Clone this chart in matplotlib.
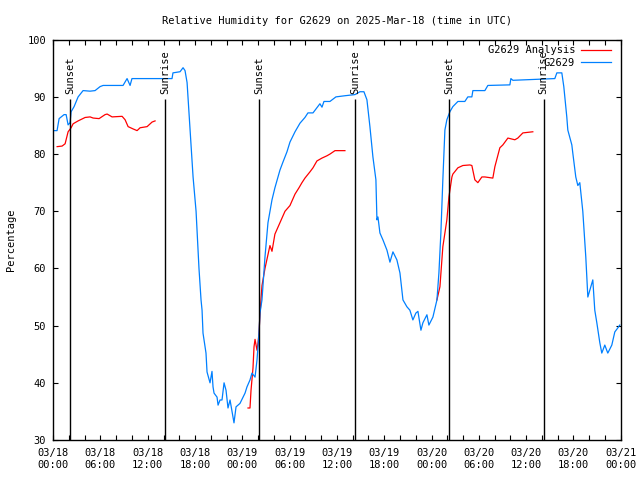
import datetime as dt
import numpy as np
import matplotlib
matplotlib.use("Agg")
import matplotlib.pyplot as plt
import matplotlib.dates as mdates

plt.rcParams['font.family'] = ['DejaVu Sans Mono']

start = dt.datetime(2025, 3, 18)

# observed humidity, hours after 03/18 00:00 UTC
obs_hours = [0.13, 0.5, 0.76, 1.39, 1.65, 1.9, 2.15, 2.28, 2.66, 3.17, 3.8, 4.69, 5.32,
             5.96, 6.34, 8.87, 9.38, 9.76, 10.0, 15.08, 15.2, 16.1, 16.48, 16.73, 16.99,
             17.37, 17.75, 18.13, 18.5, 18.76, 18.89, 19.01, 19.39, 19.52, 19.9, 20.15,
             20.28, 20.41, 20.79, 20.92, 21.17, 21.42, 21.68, 21.93, 22.18, 22.44, 22.82,
             22.94, 23.2, 23.7, 24.34, 24.59, 24.97, 25.22, 25.61, 25.86, 26.11, 26.24,
             26.49, 26.87, 27.25, 27.76, 28.13, 28.77, 29.15, 29.66, 30.04, 30.68, 31.31,
             31.94, 32.32, 32.96, 33.46, 33.84, 34.1, 34.35, 35.11, 35.87, 37.01, 38.28,
             38.91, 39.42, 39.8, 40.18, 40.56, 40.94, 41.07, 41.2, 41.45, 41.83, 42.34,
             42.72, 43.1, 43.6, 43.99, 44.37, 44.87, 45.25, 45.63, 46.01, 46.27, 46.65,
             46.9, 47.41, 47.66, 48.17, 48.68, 48.93, 49.18, 49.43, 49.69, 49.94, 50.32,
             50.7, 51.34, 52.22, 52.6, 53.11, 53.24, 54.76, 55.14, 57.93, 58.06, 58.31,
             63.63, 63.89, 64.52, 64.77, 65.15, 65.28, 65.79, 65.91, 66.29, 66.55, 66.8,
             67.18, 67.56, 67.82, 68.07, 68.45, 68.7, 68.96, 69.34, 69.59, 69.97, 70.35,
             70.86, 71.24, 71.62, 71.87]
obs_rh = [84.1, 84.1, 86.2, 86.9, 86.9, 85.1, 85.5, 87.4, 88.3, 90.0, 91.1, 91.0, 91.1,
          91.8, 92.0, 92.0, 93.2, 92.0, 93.2, 93.2, 94.2, 94.4, 95.1, 94.6, 92.5,
          84.2, 76.0, 70.0, 60.0, 54.5, 52.7, 48.7, 45.2, 41.9, 40.0, 42.0,
          39.3, 38.2, 37.5, 36.1, 37.0, 37.0, 40.0, 38.7, 35.6, 37.0, 34.0,
          33.0, 35.8, 36.4, 38.2, 39.3, 40.5, 41.7, 41.0, 44.0, 48.7, 52.2,
          54.5, 62.0, 68.0, 72.0, 74.1, 77.2, 78.6, 80.4, 82.1, 83.9, 85.4,
          86.4, 87.2, 87.2, 88.1, 88.8, 88.2, 89.2, 89.2, 90.0, 90.2, 90.4,
          90.9, 90.9, 89.5, 84.8, 79.5, 75.5, 68.5, 69.0, 66.2, 65.0, 63.2,
          61.1, 62.9, 61.5, 59.2, 54.5, 53.3, 52.7, 51.0, 52.2, 52.5, 49.2,
          50.5, 51.9, 50.1, 51.5, 54.5, 59.2, 66.2, 75.5, 84.2, 86.0, 87.4,
          88.3, 89.2, 89.2, 90.0, 90.0, 91.1, 91.1, 92.0, 92.1, 93.2, 92.9,
          93.2, 94.2, 94.2, 91.8, 86.5, 84.2, 81.6, 80.2, 76.0, 74.5, 75.0,
          70.0, 62.0, 55.0, 56.2, 58.0, 52.7, 50.5, 47.0, 45.2, 46.6, 45.2,
          46.6, 48.9, 49.6, 50.1]

# analysis humidity (three pieces, NaN separates them)
ana_hours = [0.51, 1.14, 1.52, 1.9, 2.28, 2.54, 3.17, 4.06, 4.69, 5.07, 5.83, 6.59, 6.85,
             7.48, 8.75, 9.13, 9.51, 10.14, 10.65, 11.03, 11.92, 12.55, 12.93, 18.0,
             24.72, 24.97, 25.1, 25.35, 25.48, 25.61, 25.86, 25.99, 26.11, 26.24, 26.49,
             26.87, 27.5, 27.76, 28.13, 28.77, 29.41, 30.04, 30.68, 31.18, 31.56, 31.94,
             32.58, 32.96, 33.46, 34.1, 34.73, 35.11, 35.75, 37.01, 42.0,
             48.68, 49.06, 49.43, 49.94, 50.2, 50.58, 50.7, 51.34, 51.97, 52.86, 53.11,
             53.49, 53.87, 54.38, 54.76, 55.77, 56.03, 56.66, 57.04, 57.68, 58.56, 58.94,
             59.58, 60.84]
ana_rh = [81.3, 81.4, 81.8, 83.9, 84.6, 85.3, 85.8, 86.4, 86.5, 86.3, 86.2, 86.9, 87.0,
          86.5, 86.6, 86.0, 84.8, 84.4, 84.1, 84.6, 84.8, 85.6, 85.8, np.nan,
          35.6, 35.6, 38.7, 42.6, 46.3, 47.6, 45.7, 47.0, 48.7, 52.0, 57.0,
          60.0, 64.0, 63.0, 66.0, 68.0, 70.0, 71.0, 73.0, 74.1, 75.0, 75.8,
          76.9, 77.6, 78.8, 79.3, 79.7, 80.0, 80.6, 80.6, np.nan,
          54.5, 56.8, 63.8, 68.5, 72.5, 76.0, 76.5, 77.6, 78.0, 78.1, 78.0,
          75.5, 75.0, 76.0, 76.0, 75.8, 77.8, 81.1, 81.6, 82.8, 82.5, 82.8,
          83.7, 83.9]

sun_hours = [2.15, 14.2, 26.1, 38.3, 50.2, 62.2]
sun_labels = ['Sunset', 'Sunrise', 'Sunset', 'Sunrise', 'Sunset', 'Sunrise']


def to_time(hours):
    return [start + dt.timedelta(hours=h) for h in hours]


fig = plt.figure(figsize=(6.4, 4.8), dpi=100)
ax = fig.add_axes([0.083, 0.0833, 0.887, 0.834])

ax.plot(to_time(ana_hours), ana_rh, color='#ff0000', lw=0.9, label='G2629 Analysis')
ax.plot(to_time(obs_hours), obs_rh, color='#0080ff', lw=0.9, label='G2629')

for t, name in zip(to_time(sun_hours), sun_labels):
    ax.vlines(t, 30, 89.6, color='black', lw=1)
    ax.text(t, 90.5, name, rotation=90, ha='center', va='bottom', fontsize=7.5)

ax.set_xlim(start, start + dt.timedelta(hours=72))
ax.set_ylim(30, 100)
ax.set_yticks(range(30, 101, 10))
ax.xaxis.set_major_locator(mdates.HourLocator(byhour=range(0, 24, 6)))
ax.xaxis.set_minor_locator(mdates.HourLocator(byhour=range(0, 24, 2)))
ax.xaxis.set_major_formatter(mdates.DateFormatter('%m/%d\n%H:%M'))
ax.tick_params(which='both', direction='in', top=True, right=True, length=3.5,
               width=0.8, labelsize=7.5)
ax.tick_params(axis='x', pad=6)
ax.tick_params(axis='y', pad=5)
for s in ax.spines.values():
    s.set_linewidth(1)

ax.set_ylabel('Percentage', fontsize=7.5, labelpad=8)
ax.set_title('Relative Humidity for G2629 on 2025-Mar-18 (time in UTC)',
             fontsize=7.5, pad=11)

ax.legend(loc='upper right', frameon=False, markerfirst=False, fontsize=7.5,
          handlelength=2.8, borderaxespad=0.15, labelspacing=0.2, handletextpad=0.6,
          bbox_to_anchor=(0.992, 1.0))

fig.savefig('out.png', dpi=100)
